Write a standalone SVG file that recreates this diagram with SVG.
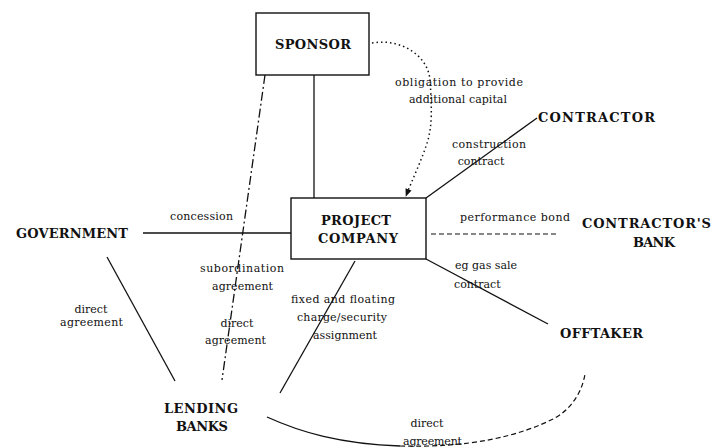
<svg xmlns="http://www.w3.org/2000/svg" width="714" height="448" viewBox="0 0 714 448">
<style>
.cap{font-family:"DejaVu Serif","Liberation Serif",serif;font-size:13px;font-weight:bold;fill:#111}
.lbl{font-family:"DejaVu Serif","Liberation Serif",serif;font-size:11px;fill:#111}
.box{fill:#fff;stroke:#111;stroke-width:1.4}
.ln{fill:none;stroke:#111;stroke-width:1.3}
.dash{fill:none;stroke:#111;stroke-width:1.2;stroke-dasharray:5 3}
.dashdot{fill:none;stroke:#111;stroke-width:1.3;stroke-dasharray:9 3 2 3}
.dot{fill:none;stroke:#111;stroke-width:1.5;stroke-dasharray:1.5 3}
</style>
<defs>
<marker id="ah" viewBox="0 0 10 10" refX="9" refY="5" markerWidth="8" markerHeight="8" orient="auto" markerUnits="userSpaceOnUse">
<path d="M0,1 L10,5 L0,9 Z" fill="#111"/>
</marker>
</defs>
<rect width="714" height="448" fill="#fff"/>
<g id="connectors">
<line class="ln" x1="314" y1="75" x2="314" y2="198"/>
<path class="dot" d="M372,43 C400,38 428,55 430,80 C432,110 432,125 428,140 C422,160 412,180 406,196" marker-end="url(#ah)"/>
<line class="dashdot" x1="265" y1="75" x2="222" y2="380"/>
<line class="ln" x1="143" y1="233" x2="291" y2="233"/>
<line class="ln" x1="426" y1="198" x2="537" y2="118"/>
<line class="dash" x1="431" y1="234" x2="558" y2="234"/>
<line class="ln" x1="426" y1="259" x2="548" y2="324"/>
<line class="ln" x1="355" y1="261" x2="280" y2="393"/>
<line class="ln" x1="107" y1="257" x2="175" y2="381"/>
<path class="ln" d="M267,417 C300,432 340,444 400,446"/>
<path class="dash" d="M400,446 C470,448 520,436 555,418 C572,408 582,392 585,374"/>
</g>
<g id="sponsor">
<rect class="box" x="256" y="13" width="113" height="62"/>
<text class="cap" x="313" y="49" text-anchor="middle" textLength="76">SPONSOR</text>
</g>
<g id="project-company">
<rect class="box" x="291" y="198" width="135" height="61"/>
<text class="cap" x="356" y="225" text-anchor="middle" textLength="70">PROJECT</text>
<text class="cap" x="358" y="243" text-anchor="middle" textLength="80">COMPANY</text>
</g>
<g id="contractor">
<text class="cap" x="538" y="122" textLength="117">CONTRACTOR</text>
</g>
<g id="contractors-bank">
<text class="cap" x="582" y="228" textLength="129">CONTRACTOR'S</text>
<text class="cap" x="654" y="247" text-anchor="middle" textLength="42">BANK</text>
</g>
<g id="government">
<text class="cap" x="16" y="238" textLength="112">GOVERNMENT</text>
</g>
<g id="offtaker">
<text class="cap" x="560" y="338" textLength="83">OFFTAKER</text>
</g>
<g id="lending-banks">
<text class="cap" x="201" y="413" text-anchor="middle" textLength="74">LENDING</text>
<text class="cap" x="202" y="431" text-anchor="middle" textLength="52">BANKS</text>
</g>
<g id="labels">
<text class="lbl" x="395" y="86" textLength="128">obligation to provide</text>
<text class="lbl" x="409" y="103" textLength="98">additional capital</text>
<text class="lbl" x="452" y="148" textLength="74">construction</text>
<text class="lbl" x="481" y="165" text-anchor="middle">contract</text>
<text class="lbl" x="460" y="221" textLength="110">performance bond</text>
<text class="lbl" x="455" y="269">eg gas sale</text>
<text class="lbl" x="454" y="288">contract</text>
<text class="lbl" x="170" y="220" textLength="63">concession</text>
<text class="lbl" x="200" y="272" textLength="84">subordination</text>
<text class="lbl" x="212" y="290" textLength="61">agreement</text>
<text class="lbl" x="291" y="303" textLength="104">fixed and floating</text>
<text class="lbl" x="297" y="321" textLength="90">charge/security</text>
<text class="lbl" x="313" y="339" textLength="64">assignment</text>
<text class="lbl" x="237" y="327" text-anchor="middle">direct</text>
<text class="lbl" x="205" y="344" textLength="61">agreement</text>
<text class="lbl" x="91" y="313" text-anchor="middle">direct</text>
<text class="lbl" x="60" y="326" textLength="63">agreement</text>
<text class="lbl" x="427" y="427" text-anchor="middle">direct</text>
<text class="lbl" x="403" y="445" textLength="59">agreement</text>
</g>
</svg>
